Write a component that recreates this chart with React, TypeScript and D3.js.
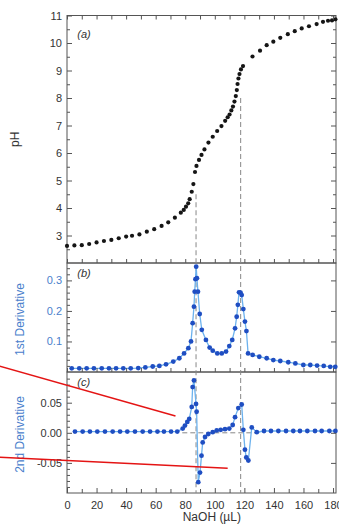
import React, { useEffect, useRef } from 'react';
import * as d3 from 'd3';

// (a) titration curve: volume of NaOH (uL) and pH
const volA = [0, 5, 10, 15, 20, 25, 30, 35, 40, 44, 49, 54, 59, 64, 68.5, 73, 77, 79, 80.5, 82,
  83, 84.4, 85.5, 86.6, 87.6, 89.3, 91, 93, 95.7, 98.6, 101.6, 104.5, 107, 108.7, 110, 111.2, 112.3,
  113.3, 114.2, 114.9, 115.4, 116, 116.7, 117.7, 119.1, 125.5, 130.6, 135.1, 139.6, 144.3, 149.4,
  154.1, 158.8, 163.7, 168.9, 173.2, 176.6, 179.3, 181.6];
const phA = [2.62, 2.64, 2.65, 2.69, 2.75, 2.8, 2.84, 2.9, 2.96, 2.99, 3.04, 3.14, 3.23, 3.35, 3.48,
  3.65, 3.83, 3.93, 4.05, 4.17, 4.32, 4.59, 4.87, 5.31, 5.53, 5.75, 5.93, 6.13, 6.38, 6.59, 6.8, 6.98,
  7.17, 7.3, 7.4, 7.55, 7.69, 7.87, 8.07, 8.29, 8.51, 8.71, 8.87, 9.04, 9.16, 9.51, 9.72, 9.92, 10.05,
  10.19, 10.32, 10.43, 10.53, 10.61, 10.69, 10.77, 10.81, 10.82, 10.86];

// (b) first derivative
const volB = [3.2, 8.3, 13.3, 18.2, 23.5, 28.4, 33.2, 38.1, 43.1, 48.2, 53, 58, 62.5, 67, 71.9, 76,
  79.2, 82.1, 83.9, 85, 85.9, 86.4, 86.9, 87.4, 87.9, 88.6, 89.8, 91.2, 94, 96.5, 98.6, 101.7, 104.7,
  107.6, 109.8, 111.8, 113.7, 114.8, 115.6, 116.4, 117.4, 118.2, 119.3, 120.4, 121.4, 122.5, 125.6,
  130.1, 135.1, 139.6, 144.3, 149.7, 154.5, 159.9, 164.6, 169.2, 173.7, 178.1, 181.5];
const d1 = [0.012, 0.012, 0.012, 0.012, 0.012, 0.012, 0.012, 0.012, 0.012, 0.013, 0.015, 0.018, 0.02,
  0.025, 0.034, 0.045, 0.061, 0.078, 0.1, 0.16, 0.214, 0.263, 0.304, 0.345, 0.307, 0.263, 0.19, 0.138,
  0.105, 0.08, 0.07, 0.061, 0.061, 0.067, 0.085, 0.105, 0.143, 0.181, 0.22, 0.261, 0.26, 0.252, 0.206,
  0.165, 0.134, 0.061, 0.056, 0.05, 0.045, 0.039, 0.036, 0.032, 0.028, 0.023, 0.023, 0.021, 0.02,
  0.017, 0.017];

// (c) second derivative
const volC = [5.4, 10.6, 15.5, 20.5, 25.7, 30.9, 35.9, 40.8, 46, 51.2, 56.2, 61.2, 65.6, 70.4, 74.6,
  78.3, 79.8, 81.4, 82.7, 84.4, 85, 85.9, 87.3, 87.7, 88.8, 90, 91, 91.8, 93.4, 95.6, 98.6, 101.3, 104,
  106.9, 109.8, 112.1, 113.7, 115.9, 118.2, 119.3, 120.4, 121.3, 122.7, 125, 128.4, 133.3, 138, 143,
  148.2, 153.1, 157.6, 162.6, 167.8, 172.3, 177.5, 181.6];
const d2 = [0.002, 0.002, 0.002, 0.002, 0.002, 0.002, 0.002, 0.002, 0.002, 0.002, 0.002, 0.002, 0.002,
  0.002, 0.002, 0.007, 0.012, 0.018, 0.023, 0.043, 0.076, 0.087, 0.048, 0.035, -0.082, -0.066, -0.038,
  -0.016, -0.007, -0.002, 0.001, 0.004, 0.005, 0.006, 0.007, 0.013, 0.026, 0.041, 0.047, 0.005, -0.028,
  -0.041, -0.046, 0.009, 0.001, 0.003, 0.003, 0.003, 0.003, 0.003, 0.003, 0.003, 0.003, 0.003, 0.003,
  0.003];

// equivalence points
const eqVol = [87.3, 117.5];
const eqPh = [4.5, 8.0];

const xTicks = [0, 20, 40, 60, 80, 100, 120, 140, 160, 180];
const xMinor = [10, 30, 50, 70, 90, 110, 130, 150, 170];
const phTicks = [3, 4, 5, 6, 7, 8, 9, 10, 11];
const phMinor = [2.5, 3.5, 4.5, 5.5, 6.5, 7.5, 8.5, 9.5, 10.5];
const d1Ticks = [0.1, 0.2, 0.3];
const d1Minor = [0.02, 0.04, 0.06, 0.08, 0.12, 0.14, 0.16, 0.18, 0.22, 0.24, 0.26, 0.28, 0.32, 0.34];
const d2Ticks = [-0.05, 0, 0.05];
const d2Minor = [-0.09, -0.08, -0.07, -0.06, -0.04, -0.03, -0.02, -0.01, 0.01, 0.02, 0.03, 0.04, 0.06,
  0.07, 0.08, 0.09];

// red pen strokes over panel (c), in its own units
const redX = [[-46, 73.4], [-46, 108.7]];
const redY = [[0.111, 0.028], [-0.0405, -0.059]];

const FONT = 'Liberation Sans, Arial, Helvetica, sans-serif';

function TitrationChart() {
  const svgRef = useRef(null);

  useEffect(() => {
    if (!svgRef.current) return;
    const svg = d3.select(svgRef.current);
    svg.selectAll('*').remove();

    const x = d3.scaleLinear().domain([0, 182]).range([67, 336]);
    const yA = d3.scaleLinear().domain([2, 11]).range([263, 15.5]);
    const yB = d3.scaleLinear().domain([0, 0.357]).range([372, 263]);
    const yC = d3.scaleLinear().domain([-0.1, 0.101]).range([493, 372]);

    const frame = '#555';
    const blueText = '#4a80cc';
    const dotBlue = '#1f4ec2';
    const lineBlue = '#6cb2ee';

    const tidy = (g, color = '#333') => {
      g.select('.domain').remove();
      g.selectAll('line').attr('stroke', frame);
      g.attr('font-family', FONT).attr('font-size', 11);
      g.selectAll('text').attr('fill', color);
    };

    // panel frames
    [[yA, 2, 11], [yB, 0, 0.357], [yC, -0.1, 0.101]].forEach(([y, lo, hi]) => {
      svg.append('rect')
        .attr('x', x(0)).attr('y', y(hi))
        .attr('width', x(182) - x(0)).attr('height', y(lo) - y(hi))
        .attr('fill', 'none').attr('stroke', frame).attr('stroke-width', 1);
    });

    // dashed equivalence lines
    eqVol.forEach((v, i) => {
      svg.append('line')
        .attr('x1', x(v)).attr('x2', x(v))
        .attr('y1', yA(eqPh[i])).attr('y2', yC(-0.1))
        .attr('stroke', '#888').attr('stroke-width', 1).attr('stroke-dasharray', '5,3');
    });
    svg.append('line')
      .attr('x1', x(78)).attr('x2', x(128))
      .attr('y1', yC(0)).attr('y2', yC(0))
      .attr('stroke', '#888').attr('stroke-width', 1).attr('stroke-dasharray', '5,3');

    // (a) dots
    svg.append('g').selectAll('circle')
      .data(volA)
      .join('circle')
      .attr('cx', d => x(d))
      .attr('cy', (d, i) => yA(phA[i]))
      .attr('r', 2.1)
      .attr('fill', '#151515');

    // (b) and (c) lines + dots
    const drawSeries = (vols, vals, y) => {
      const line = d3.line()
        .x((d, i) => x(vols[i]))
        .y(d => y(d));
      svg.append('path')
        .datum(vals)
        .attr('fill', 'none')
        .attr('stroke', lineBlue)
        .attr('stroke-width', 1.3)
        .attr('d', line);
      svg.append('g').selectAll('circle')
        .data(vals)
        .join('circle')
        .attr('cx', (d, i) => x(vols[i]))
        .attr('cy', d => y(d))
        .attr('r', 2.4)
        .attr('fill', dotBlue);
    };
    drawSeries(volB, d1, yB);
    drawSeries(volC, d2, yC);

    // panel (a) axes
    svg.append('g').attr('transform', `translate(${x(0)},0)`)
      .call(d3.axisLeft(yA).tickValues(phTicks).tickSize(-5).tickPadding(5).tickFormat(d3.format('d')))
      .call(g => tidy(g));
    svg.append('g').attr('transform', `translate(${x(0)},0)`)
      .call(d3.axisLeft(yA).tickValues(phMinor).tickSize(-3).tickFormat(() => ''))
      .call(g => tidy(g));
    svg.append('g').attr('transform', `translate(${x(182)},0)`)
      .call(d3.axisRight(yA).tickValues(phTicks).tickSize(-5).tickFormat(() => ''))
      .call(g => tidy(g));
    svg.append('g').attr('transform', `translate(${x(182)},0)`)
      .call(d3.axisRight(yA).tickValues(phMinor).tickSize(-3).tickFormat(() => ''))
      .call(g => tidy(g));
    svg.append('g').attr('transform', `translate(0,${yA(11)})`)
      .call(d3.axisTop(x).tickValues(xTicks.concat(xMinor)).tickSize(-4).tickFormat(() => ''))
      .call(g => tidy(g));
    svg.append('g').attr('transform', `translate(0,${yA(2)})`)
      .call(d3.axisBottom(x).tickValues(xTicks.concat(xMinor)).tickSize(-4).tickFormat(() => ''))
      .call(g => tidy(g));

    // panel (b) axes
    svg.append('g').attr('transform', `translate(${x(0)},0)`)
      .call(d3.axisLeft(yB).tickValues(d1Ticks).tickSize(-5).tickPadding(5).tickFormat(d3.format('.1f')))
      .call(g => tidy(g, blueText));
    svg.append('g').attr('transform', `translate(${x(0)},0)`)
      .call(d3.axisLeft(yB).tickValues(d1Minor).tickSize(-3).tickFormat(() => ''))
      .call(g => tidy(g));
    svg.append('g').attr('transform', `translate(${x(182)},0)`)
      .call(d3.axisRight(yB).tickValues(d1Ticks).tickSize(-5).tickFormat(() => ''))
      .call(g => tidy(g));
    svg.append('g').attr('transform', `translate(0,${yB(0)})`)
      .call(d3.axisBottom(x).tickValues(xTicks.concat(xMinor)).tickSize(-4).tickFormat(() => ''))
      .call(g => tidy(g));

    // panel (c) axes
    svg.append('g').attr('transform', `translate(${x(0)},0)`)
      .call(d3.axisLeft(yC).tickValues(d2Ticks).tickSize(-5).tickPadding(5).tickFormat(d => d.toFixed(2)))
      .call(g => tidy(g));
    svg.append('g').attr('transform', `translate(${x(0)},0)`)
      .call(d3.axisLeft(yC).tickValues(d2Minor).tickSize(-3).tickFormat(() => ''))
      .call(g => tidy(g));
    svg.append('g').attr('transform', `translate(${x(182)},0)`)
      .call(d3.axisRight(yC).tickValues(d2Ticks).tickSize(-5).tickFormat(() => ''))
      .call(g => tidy(g));
    svg.append('g').attr('transform', `translate(0,${yC(-0.1)})`)
      .call(d3.axisBottom(x).tickValues(xMinor).tickSize(-4).tickFormat(() => ''))
      .call(g => tidy(g));
    svg.append('g').attr('transform', `translate(0,${yC(-0.1)})`)
      .call(d3.axisBottom(x).tickValues(xTicks).tickSize(-5).tickPadding(8).tickFormat(d3.format('d')))
      .call(g => tidy(g));

    // titles
    svg.append('text')
      .attr('transform', `translate(19,${yA(6.5)}) rotate(-90)`)
      .attr('text-anchor', 'middle').attr('font-family', FONT).attr('font-size', 12).attr('fill', '#333')
      .text('pH');
    svg.append('text')
      .attr('transform', `translate(24,${(yB(0) + yB(0.357)) / 2 + 2}) rotate(-90)`)
      .attr('text-anchor', 'middle').attr('font-family', FONT).attr('font-size', 12).attr('fill', blueText)
      .text('1st Derivative');
    svg.append('text')
      .attr('transform', `translate(24,${(yC(-0.1) + yC(0.101)) / 2 + 2}) rotate(-90)`)
      .attr('text-anchor', 'middle').attr('font-family', FONT).attr('font-size', 12).attr('fill', blueText)
      .text('2nd Derivative');
    svg.append('text')
      .attr('x', x(98)).attr('y', 521)
      .attr('text-anchor', 'middle').attr('font-family', FONT).attr('font-size', 12).attr('fill', '#333')
      .text('NaOH (µL)');

    // panel letters
    [['(a)', yA(10.2)], ['(b)', yB(0.31)], ['(c)', yC(0.078)]].forEach(([t, y]) => {
      svg.append('text')
        .attr('x', x(7)).attr('y', y)
        .attr('font-family', FONT).attr('font-size', 11).attr('font-style', 'italic').attr('fill', '#333')
        .text(t);
    });

    // red pen strokes
    redX.forEach((xs, i) => {
      svg.append('line')
        .attr('x1', x(xs[0])).attr('x2', x(xs[1]))
        .attr('y1', yC(redY[i][0])).attr('y2', yC(redY[i][1]))
        .attr('stroke', '#e41414').attr('stroke-width', 1.5);
    });
  }, []);

  return (
    <svg ref={svgRef} width={339} height={527}
      style={{ position: 'absolute', left: 0, top: 0, background: '#fff' }} />
  );
}

export default function App() {
  return <TitrationChart />;
}
